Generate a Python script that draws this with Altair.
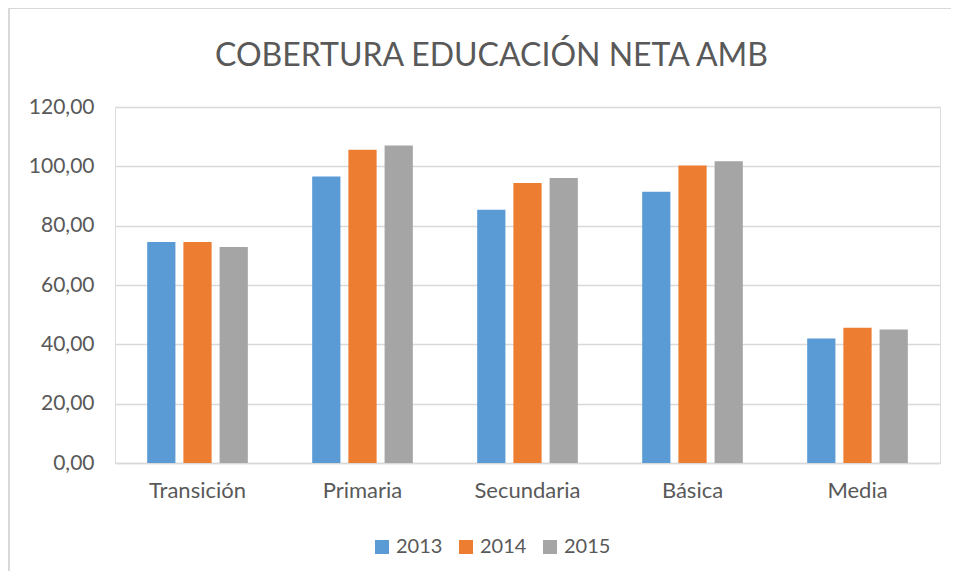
import altair as alt
import pandas as pd

categories = ["Transición", "Primaria", "Secundaria", "Básica", "Media"]
years = ["2013", "2014", "2015"]
v2013 = [74.5, 96.6, 85.4, 91.4, 42.0]
v2014 = [74.5, 105.6, 94.4, 100.3, 45.6]
v2015 = [72.8, 107.0, 96.1, 101.7, 45.0]
colors = ["#5B9BD5", "#ED7D31", "#A5A5A5"]

rows = []
for yr, vals in zip(years, [v2013, v2014, v2015]):
    for c, v in zip(categories, vals):
        rows.append({"cat": c, "year": yr, "value": v})
df = pd.DataFrame(rows)

FONT = "Lato"
TXT = "#595959"

bars = alt.Chart(df).mark_bar().encode(
    x=alt.X("cat:N", sort=categories, title=None,
            scale=alt.Scale(paddingInner=0.39, paddingOuter=0.195),
            axis=alt.Axis(labelAngle=0, labelFontSize=22, labelColor=TXT, labelFont=FONT,
                          ticks=False, domainColor="#d9d9d9", domainWidth=1.5,
                          labelPadding=17, grid=False)),
    xOffset=alt.XOffset("year:N", sort=years, scale=alt.Scale(paddingInner=0.22)),
    y=alt.Y("value:Q", title=None,
            scale=alt.Scale(domain=[0, 120], nice=False),
            axis=alt.Axis(values=[0, 20, 40, 60, 80, 100, 120],
                          labelExpr="replace(format(datum.value, '.2f'), '.', ',')",
                          labelFontSize=21, labelColor=TXT, labelFont=FONT,
                          ticks=False, domain=False, gridColor="#d9d9d9", gridWidth=1.5,
                          labelPadding=21)),
    color=alt.Color("year:N", sort=years, scale=alt.Scale(domain=years, range=colors),
                    legend=alt.Legend(title=None, orient="none", direction="horizontal",
                                      legendX=257, legendY=430,
                                      symbolType="square", symbolSize=196,
                                      labelFontSize=20, labelColor=TXT, labelFont=FONT,
                                      columnPadding=13, labelOffset=4, symbolStrokeWidth=0)),
)

border_left = alt.Chart(pd.DataFrame({"k": [0]})).mark_rule(color="#d9d9d9", strokeWidth=2).encode(
    x=alt.value(-106), y=alt.value(-99), y2=alt.value(470))
border_top = alt.Chart(pd.DataFrame({"k": [0]})).mark_rule(color="#d9d9d9", strokeWidth=2).encode(
    x=alt.value(-106), x2=alt.value(845), y=alt.value(-99))

chart = alt.layer(bars, border_left, border_top).properties(
    width=825, height=356,
    title=alt.TitleParams("COBERTURA EDUCACIÓN NETA AMB", fontSize=32, font=FONT,
                          color=TXT, fontWeight="normal", anchor="middle", offset=-66, dx=-36),
    autosize=alt.AutoSizeParams(type="none"),
    padding={"left": 107, "top": 99, "right": 11, "bottom": 108},
).configure_view(stroke=None).configure(background="white")

chart.save("out.html", embed_options={"renderer": "svg", "actions": False})
